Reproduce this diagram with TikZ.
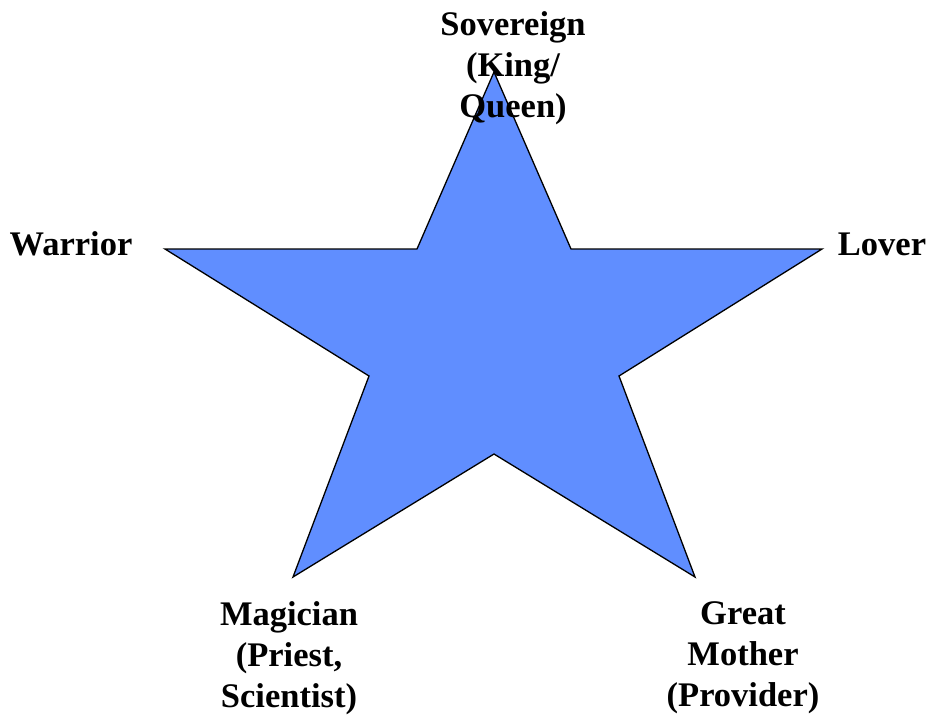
\documentclass[tikz,border=0pt]{standalone}
\usepackage{fontspec}
\setmainfont{Liberation Serif}
\usepackage{tikz}

\definecolor{starblue}{RGB}{96,142,255}

\begin{document}
\begin{tikzpicture}[x=1pt, y=-1pt,
  archetype/.style={font=\fontsize{34.5}{41}\selectfont\bfseries, align=center, inner sep=0pt}]
  \useasboundingbox (0,0) rectangle (929,716);

  % star points
  \coordinate (top) at (494,72);
  \coordinate (in1) at (571,249);
  \coordinate (right) at (822,249);
  \coordinate (in2) at (619,376);
  \coordinate (botr) at (695,577);
  \coordinate (in3) at (494,454);
  \coordinate (botl) at (293,577);
  \coordinate (in4) at (369,376);
  \coordinate (left) at (165,249);
  \coordinate (in5) at (417,249);

  \filldraw[fill=starblue, draw=black, line width=1.3pt, line join=miter]
    (top) -- (in1) -- (right) -- (in2) -- (botr) -- (in3)
    -- (botl) -- (in4) -- (left) -- (in5) -- cycle;

  \node[archetype] (sovereign) at (513,68) {Sovereign\\(King/\\Queen)};
  \node[archetype] (warrior) at (71,244) {Warrior};
  \node[archetype] (lover) at (882,244) {Lover};
  \node[archetype] (magician) at (289,658) {Magician\\(Priest,\\Scientist)};
  \node[archetype] (mother) at (743,658) {Great\\Mother\\(Provider)};
\end{tikzpicture}
\end{document}
